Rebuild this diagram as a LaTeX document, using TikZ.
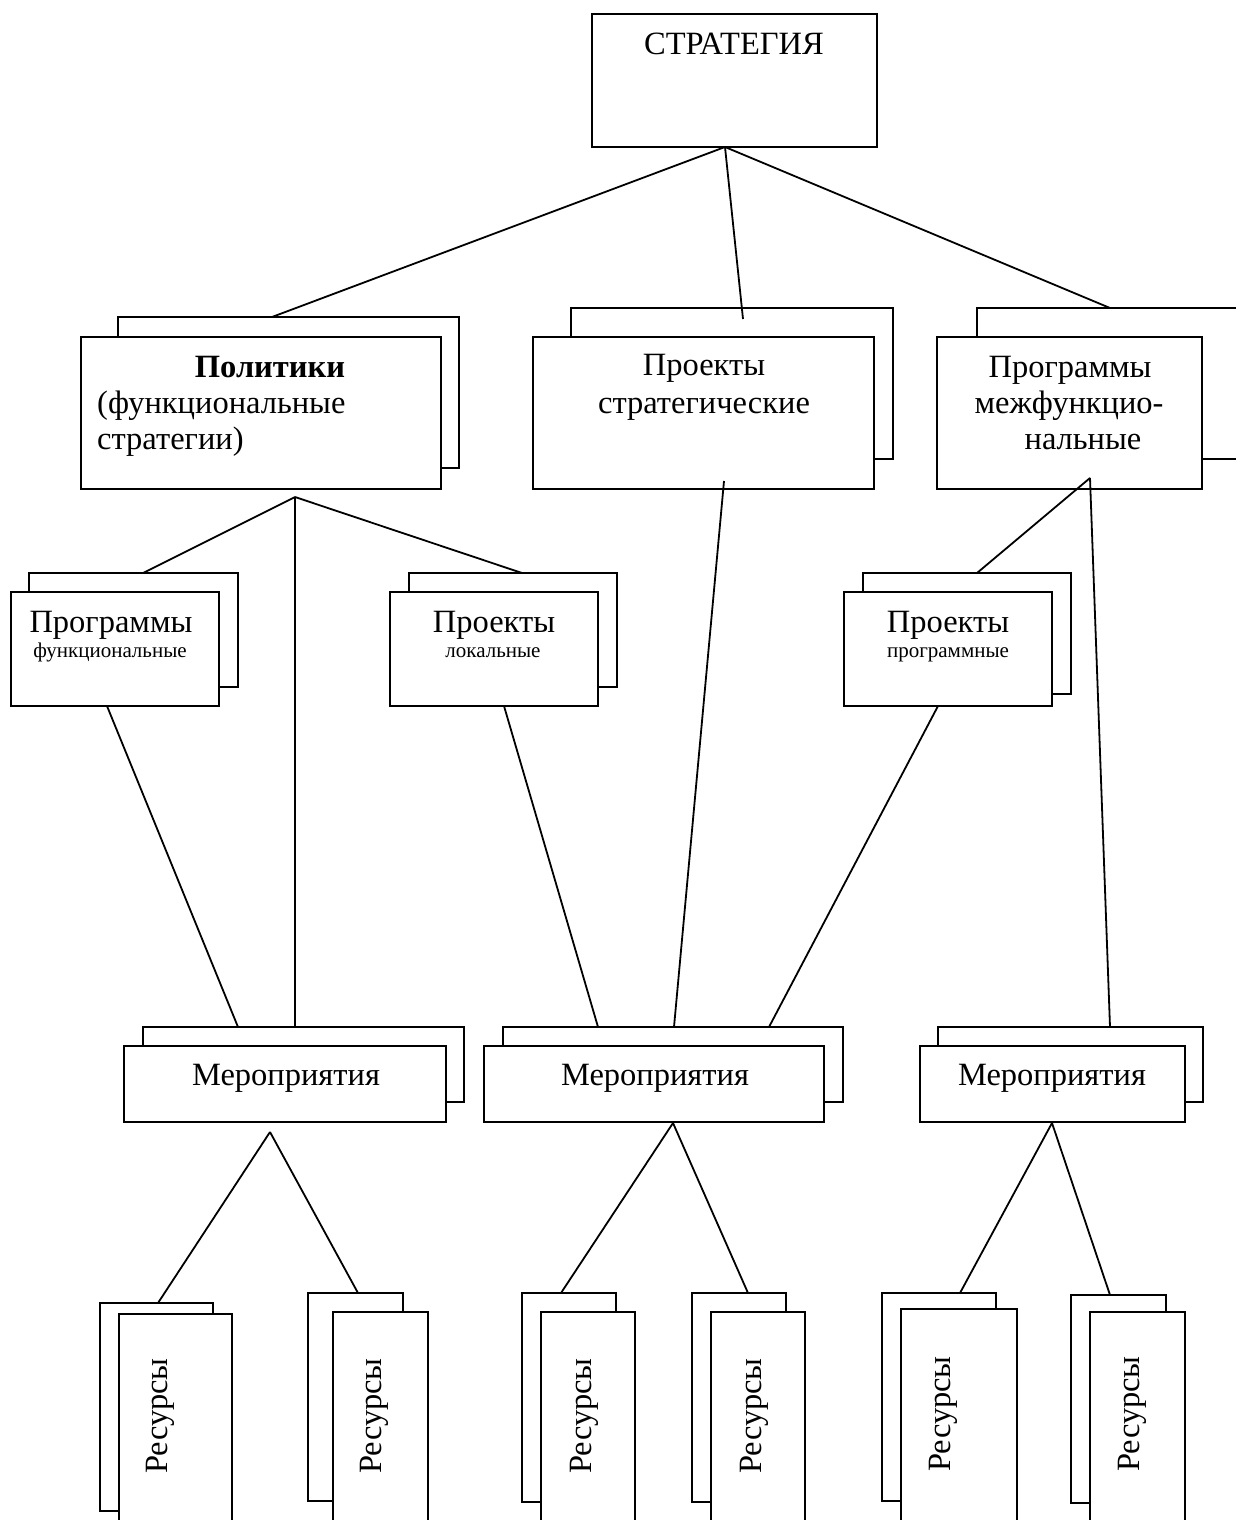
\documentclass[tikz,border=0pt]{standalone}
\usepackage{fontspec}
\setmainfont{Liberation Serif}
\usetikzlibrary{fit}
\begin{document}
\begin{tikzpicture}[x=1pt,y=-1pt,
  card/.style={draw, line width=2.2pt, fill=white, inner sep=0pt},
  link/.style={line width=1.8pt},
  big/.style={inner sep=0pt, anchor=base, font=\fontsize{32.5}{38}\selectfont},
  small/.style={inner sep=0pt, anchor=base, font=\fontsize{21}{25}\selectfont},
  vert/.style={inner sep=0pt, anchor=center, rotate=90, font=\fontsize{32.5}{38}\selectfont}]
\useasboundingbox (0,0) rectangle (1236,1520);
\fill[white] (0,0) rectangle (1236,1520);
\clip (0,0) rectangle (1236,1520);

% --- connector end points ---
\coordinate (s0) at (725,147);
\coordinate (polT) at (272,317);
\coordinate (prsT) at (743,319);
\coordinate (prgT) at (1110,308);
\coordinate (p0) at (295,497);
\coordinate (pfT) at (143,573);
\coordinate (plT) at (522,573);
\coordinate (ppT) at (977,573);
\coordinate (prsB) at (724,481);
\coordinate (i0) at (1090,478);
\coordinate (pfB) at (107,706);
\coordinate (plB) at (504,706);
\coordinate (ppB) at (938,706);
\coordinate (m1T) at (295,1027);
\coordinate (m1L) at (238,1027);
\coordinate (m2L) at (598,1027);
\coordinate (m2M) at (674,1027);
\coordinate (m2R) at (769,1027);
\coordinate (m3T) at (1110,1027);
\coordinate (m1) at (270,1132);
\coordinate (m2) at (673,1123);
\coordinate (m3) at (1052,1123);
\coordinate (r1) at (158,1303);
\coordinate (r2) at (358,1293);
\coordinate (r3) at (561,1293);
\coordinate (r4) at (748,1293);
\coordinate (r5) at (960,1293);
\coordinate (r6) at (1110,1295);

% --- connectors whose ends the cards cover ---
\draw[link] (s0) -- (polT);
\draw[link] (s0) -- (prgT);
\draw[link] (p0) -- (pfT);
\draw[link] (p0) -- (plT);
\draw[link] (p0) -- (m1T);
\draw[link] (pfB) -- (m1L);
\draw[link] (plB) -- (m2L);
\draw[link] (ppB) -- (m2R);
\draw[link] (m1) -- (r1);
\draw[link] (m1) -- (r2);
\draw[link] (m2) -- (r3);
\draw[link] (m2) -- (r4);
\draw[link] (m3) -- (r5);
\draw[link] (m3) -- (r6);

% --- top ---
\node[card, fit={(592,14) (877,147)}] (strat) {};
\node[big] (stratT) at (734,55) {СТРАТЕГИЯ};

% --- second level ---
\node[card, fit={(118,317) (459,468)}] (polB) {};
\node[card, fit={(81,337) (441,489)}] (pol) {};
\node[big, font=\fontsize{32.5}{38}\selectfont\bfseries] (polT1) at (270,377) {Политики};
\node[big, anchor=base west] (polT2) at (97,413) {(функциональные};
\node[big, anchor=base west] (polT3) at (97,449) {стратегии)};

\node[card, fit={(571,308) (893,459)}] (prsBk) {};
\node[card, fit={(533,337) (874,489)}] (prs) {};
\node[big] (prsT1) at (704,375) {Проекты};
\node[big] (prsT2) at (704,413) {стратегические};

\node[card, fit={(977,308) (1270,459)}] (prgBk) {};
\node[card, fit={(937,337) (1202,489)}] (prg) {};
\node[big] (prgT1) at (1070,377) {Программы};
\node[big] (prgT2) at (1069,413) {межфункцио-};
\node[big] (prgT3) at (1083,449) {нальные};

% --- third level ---
\node[card, fit={(29,573) (238,687)}] (pfBk) {};
\node[card, fit={(11,592) (219,706)}] (pf) {};
\node[big] (pfT1) at (111,632) {Программы};
\node[small] (pfT2) at (110,657) {функциональные};

\node[card, fit={(409,573) (617,687)}] (plBk) {};
\node[card, fit={(390,592) (598,706)}] (pl) {};
\node[big] (plT1) at (494,632) {Проекты};
\node[small] (plT2) at (493,657) {локальные};

\node[card, fit={(863,573) (1071,694)}] (ppBk) {};
\node[card, fit={(844,592) (1052,706)}] (pp) {};
\node[big] (ppT1) at (948,632) {Проекты};
\node[small] (ppT2) at (948,657) {программные};

% --- activities ---
\node[card, fit={(143,1027) (464,1102)}] (mer1Bk) {};
\node[card, fit={(124,1046) (446,1122)}] (mer1) {};
\node[big] (mer1T) at (286,1085) {Мероприятия};

\node[card, fit={(503,1027) (843,1102)}] (mer2Bk) {};
\node[card, fit={(484,1046) (824,1122)}] (mer2) {};
\node[big] (mer2T) at (655,1085) {Мероприятия};

\node[card, fit={(938,1027) (1203,1102)}] (mer3Bk) {};
\node[card, fit={(920,1046) (1185,1122)}] (mer3) {};
\node[big] (mer3T) at (1052,1085) {Мероприятия};

% --- connectors that run over the cards ---
\draw[link] (s0) -- (prsT);
\draw[link] (prsB) -- (m2M);
\draw[link] (i0) -- (ppT);
\draw[link] (i0) -- (m3T);

% --- resources ---
\node[card, fit={(100,1303) (213,1511)}] (res1Bk) {};
\node[card, fit={(119,1314) (232,1545)}] (res1) {};
\node[vert] (res1T) at (160,1416) {Ресурсы};

\node[card, fit={(308,1293) (403,1501)}] (res2Bk) {};
\node[card, fit={(333,1312) (428,1545)}] (res2) {};
\node[vert] (res2T) at (374,1416) {Ресурсы};

\node[card, fit={(522,1293) (616,1502)}] (res3Bk) {};
\node[card, fit={(541,1312) (635,1545)}] (res3) {};
\node[vert] (res3T) at (584,1416) {Ресурсы};

\node[card, fit={(692,1293) (786,1502)}] (res4Bk) {};
\node[card, fit={(711,1312) (805,1545)}] (res4) {};
\node[vert] (res4T) at (754,1416) {Ресурсы};

\node[card, fit={(882,1293) (996,1501)}] (res5Bk) {};
\node[card, fit={(901,1309) (1017,1545)}] (res5) {};
\node[vert] (res5T) at (943,1414) {Ресурсы};

\node[card, fit={(1071,1295) (1166,1503)}] (res6Bk) {};
\node[card, fit={(1090,1312) (1185,1545)}] (res6) {};
\node[vert] (res6T) at (1132,1414) {Ресурсы};
\end{tikzpicture}
\end{document}
